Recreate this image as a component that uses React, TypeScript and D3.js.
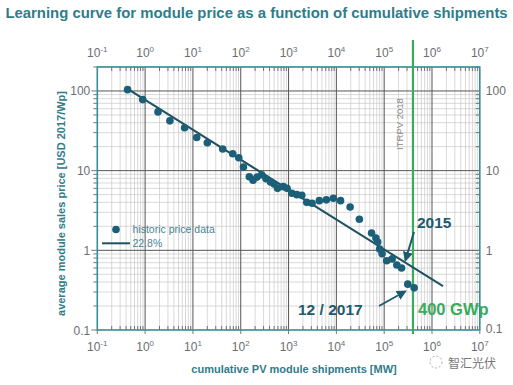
import React from 'react';
import * as d3 from 'd3';

// cumulative shipments [MW] and average module price [USD 2017/Wp]
const shipmentsMW = [
  0.43, 0.89, 1.86, 3.3, 6.7, 12, 20, 42, 68, 91, 114, 151, 181, 219, 275, 338, 420, 498,
  589, 778, 931, 1170, 1490, 1890, 2400, 3100, 4400, 6180, 8650, 12250, 19400, 30300,
  54500, 67000, 73100, 80200, 90400, 113000, 147000, 184000, 231000, 312000, 423000,
];
const pricesUSD = [
  104, 78, 54.6, 42.2, 34.5, 26.1, 22.4, 18.7, 16.3, 14.5, 11.1, 8.4, 7.6, 8.3, 8.9, 7.9, 7.2, 6.8,
  6.0, 6.3, 6.0, 5.2, 5.0, 4.9, 4.0, 3.9, 4.2, 4.3, 4.5, 4.2, 3.5, 2.46,
  1.65, 1.43, 1.27, 1.04, 0.91, 0.74, 0.78, 0.655, 0.6, 0.376, 0.338,
];

// 22.8 % learning rate fit, end points
const fitX = [0.43, 1.7e6];
const fitY = [106, 0.355];

const xDecades = [-1, 0, 1, 2, 3, 4, 5, 6, 7];
const yTicks = [0.1, 1, 10, 100];
const targetMW = 4e5;

const W = 513;
const H = 385;
const plot = { left: 97.3, right: 479.8, top: 67, bottom: 330 };

const teal = '#3a8c97';
const dark = '#1e5a6e';
const green = '#3aab5d';
const labelGrey = '#6a6e70';

export default function App() {
  const x = d3.scaleLog().domain([0.1, 1e7]).range([plot.left, plot.right]);
  const y = d3.scaleLog().domain([0.1, 200]).range([plot.bottom, plot.top]);

  const minorX: number[] = [];
  xDecades.slice(0, -1).forEach(e => {
    for (let k = 2; k <= 9; k++) minorX.push(k * Math.pow(10, e));
  });
  const minorY: number[] = [];
  [-1, 0, 1, 2].forEach(e => {
    for (let k = 2; k <= 9; k++) {
      const v = k * Math.pow(10, e);
      if (v <= 200) minorY.push(v);
    }
  });

  const fitLine = d3.line<number>()
    .x((_, i) => x(fitX[i]))
    .y((_, i) => y(fitY[i]));

  const font = 'Liberation Sans, Arial, sans-serif';

  return (
    <svg width={W} height={H} viewBox={`0 0 ${W} ${H}`}
      style={{ position: 'absolute', left: 0, top: 0, background: '#fff', fontFamily: font }}>
      <defs>
        <marker id="arr" viewBox="0 0 10 10" refX="8" refY="5" markerWidth="5" markerHeight="5" orient="auto">
          <path d="M0,0 L10,5 L0,10 z" fill={dark} />
        </marker>
      </defs>

      <text x={W / 2} y={18} textAnchor="middle" fontSize={14.9} fontWeight="bold" fill="#2f7c8a">
        Learning curve for module price as a function of cumulative shipments
      </text>

      {/* minor grid */}
      <g stroke="#c9c9c9" strokeWidth={0.7}>
        {minorX.map((v, i) => (
          <line key={'mx' + i} x1={x(v)} x2={x(v)} y1={plot.top} y2={plot.bottom} />
        ))}
        {minorY.map((v, i) => (
          <line key={'my' + i} x1={plot.left} x2={plot.right} y1={y(v)} y2={y(v)} />
        ))}
      </g>
      {/* major grid */}
      <g stroke="#555" strokeWidth={1}>
        {xDecades.slice(1, -1).map(e => (
          <line key={'Mx' + e} x1={x(Math.pow(10, e))} x2={x(Math.pow(10, e))} y1={plot.top} y2={plot.bottom} />
        ))}
        {yTicks.slice(1).map(v => (
          <line key={'My' + v} x1={plot.left} x2={plot.right} y1={y(v)} y2={y(v)} />
        ))}
      </g>

      {/* ticks */}
      <g stroke="#555" strokeWidth={0.8}>
        {minorX.map((v, i) => (
          <g key={'tx' + i}>
            <line x1={x(v)} x2={x(v)} y1={plot.top} y2={plot.top + 4} />
            <line x1={x(v)} x2={x(v)} y1={plot.bottom} y2={plot.bottom - 4} />
          </g>
        ))}
        {minorY.map((v, i) => (
          <g key={'ty' + i}>
            <line x1={plot.left - 4} x2={plot.left} y1={y(v)} y2={y(v)} />
            <line x1={plot.right - 4} x2={plot.right} y1={y(v)} y2={y(v)} />
          </g>
        ))}
        {xDecades.map(e => (
          <line key={'bx' + e} x1={x(Math.pow(10, e))} x2={x(Math.pow(10, e))} y1={plot.bottom} y2={plot.bottom + 4} />
        ))}
        {yTicks.map(v => (
          <line key={'by' + v} x1={plot.left - 6} x2={plot.left} y1={y(v)} y2={y(v)} />
        ))}
      </g>

      {/* frame */}
      <rect x={plot.left} y={plot.top} width={plot.right - plot.left} height={plot.bottom - plot.top}
        fill="none" stroke={teal} strokeWidth={1.6} />

      {/* x tick labels top and bottom */}
      {xDecades.map(e => (
        <g key={'lx' + e} fill={labelGrey} fontSize={12}>
          <text x={x(Math.pow(10, e))} y={57} textAnchor="middle">
            10<tspan fontSize={8} dy={-5}>{e}</tspan>
          </text>
          <text x={x(Math.pow(10, e))} y={351} textAnchor="middle">
            10<tspan fontSize={8} dy={-5}>{e}</tspan>
          </text>
        </g>
      ))}
      {/* y tick labels left and right */}
      {yTicks.map(v => (
        <g key={'ly' + v} fill={labelGrey} fontSize={12}>
          <text x={plot.left - 7} y={y(v) + 4.5} textAnchor="end">{d3.format('~g')(v)}</text>
          <text x={plot.right + 6} y={y(v) + (v === 0.1 ? 3 : 4.5)} textAnchor="start">{d3.format('~g')(v)}</text>
        </g>
      ))}

      <text x={294} y={373} textAnchor="middle" fontSize={11} fontWeight="bold" fill="#2f7c8a">
        cumulative PV module shipments [MW]
      </text>
      <text transform={`translate(65,${(plot.top + plot.bottom) / 2 + 5}) rotate(-90)`} textAnchor="middle"
        fontSize={11} fontWeight="bold" fill="#2f7c8a">
        average module sales price [USD 2017/Wp]
      </text>

      <text transform={`translate(403,124) rotate(-90)`} textAnchor="middle" fontSize={9.5} fill="#8a8a8a">
        ITRPV 2018
      </text>

      {/* target shipments */}
      <line x1={x(targetMW)} x2={x(targetMW)} y1={40} y2={334} stroke={green} strokeWidth={2.2} />

      {/* fit line */}
      <path d={fitLine(fitX) || ''} fill="none" stroke="#1f5262" strokeWidth={2} />

      {/* historic points */}
      <g fill="#1b5f78">
        {shipmentsMW.map((v, i) => (
          <circle key={'p' + i} cx={x(v)} cy={y(pricesUSD[i])} r={3.8} />
        ))}
      </g>

      {/* legend */}
      <circle cx={116} cy={229.5} r={3.8} fill="#1b5f78" />
      <text x={132.5} y={233} fontSize={10.5} fill="#4a8593">historic price data</text>
      <line x1={102} x2={130} y1={243.3} y2={243.3} stroke="#1f5262" strokeWidth={2} />
      <text x={132.5} y={247} fontSize={10.5} fill="#4a8593">22.8%</text>

      {/* annotations */}
      <text x={417} y={228} fontSize={15.5} fontWeight="bold" fill={dark}>2015</text>
      <line x1={414} y1={232} x2={405.5} y2={260} stroke={dark} strokeWidth={2} markerEnd="url(#arr)" />
      <text x={298} y={314.5} fontSize={15.5} fontWeight="bold" fill={dark}>12 / 2017</text>
      <line x1={379} y1={306} x2={405} y2={291.5} stroke={dark} strokeWidth={2} markerEnd="url(#arr)" />
      <text x={418} y={315} fontSize={16.5} fontWeight="bold" fill={green}>400 GWp</text>

      {/* watermark */}
      <circle cx={436} cy={362} r={6} fill="none" stroke="#aaa" strokeWidth={1} strokeDasharray="2 2" />
      <text x={448} y={368} fontSize={12} fill="#777" fontFamily="Noto Sans CJK SC">智汇光伏</text>
    </svg>
  );
}
